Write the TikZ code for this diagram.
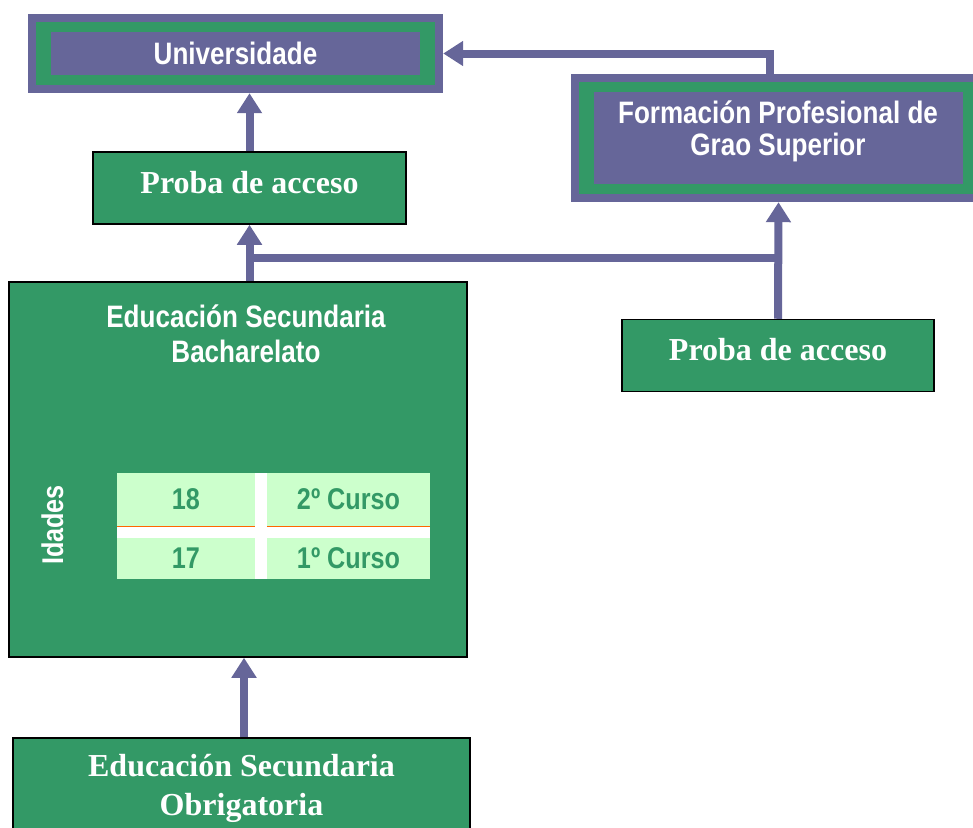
\documentclass[tikz,border=0pt]{standalone}
\usepackage{fontspec}
\usetikzlibrary{arrows.meta,calc}
\newfontfamily\narrowsf[FakeStretch=0.84]{Liberation Sans}
\newfontfamily\timesrm{Liberation Serif}
\definecolor{fpurple}{HTML}{666699}
\definecolor{fgreen}{HTML}{339966}
\definecolor{flight}{HTML}{CCFFCC}
\definecolor{forange}{HTML}{FF6600}
\tikzset{
  framed/.style={fill=fpurple, inner sep=0pt, path picture={
      \fill[fgreen] ([shift={(8pt,-8pt)}]path picture bounding box.north west)
        rectangle ([shift={(-8pt,8pt)}]path picture bounding box.south east);
      \fill[fpurple] ([shift={(23pt,-18pt)}]path picture bounding box.north west)
        rectangle ([shift={(-23pt,18pt)}]path picture bounding box.south east);}},
  gbox/.style={draw=black, line width=1.5pt, fill=fgreen, inner sep=0pt},
  wsans/.style={text=white, font=\narrowsf\bfseries\fontsize{31}{35}\selectfont, align=center, inner sep=0pt},
  wserif/.style={text=white, font=\timesrm\bfseries\fontsize{32}{39}\selectfont, align=center},
  cell/.style={fill=flight, inner sep=0pt, text=fgreen, font=\narrowsf\bfseries\fontsize{30}{34}\selectfont},
  shaft/.style={fpurple, line width=8pt},
  link/.style={shaft, -{Triangle[width=24pt,length=20pt]}}
}
\begin{document}
\begin{tikzpicture}[x=1pt,y=-1pt]
\useasboundingbox (0,0) rectangle (973,827);
\clip (0,0) rectangle (973,827);

\node[framed, wsans, minimum width=415pt, minimum height=79pt] (uni) at (235.5,53.5) {Universidade};
\node[framed, minimum width=415pt, minimum height=128pt] (fp) at (778.5,138) {};
\node[wsans, font=\narrowsf\bfseries\fontsize{31}{32}\selectfont, anchor=base] (fpt) at (778,155) {Formación Profesional de\\Grao Superior};
\node[gbox, wserif, text height=22pt, text depth=12pt, minimum width=313pt, minimum height=72pt] (pa1) at (249.5,188) {Proba de acceso};
\node[gbox, wserif, text height=22pt, text depth=12pt, minimum width=312pt, minimum height=72pt] (pa2) at (778,355.5) {Proba de acceso};
\node[gbox, minimum width=458pt, minimum height=375pt] (esb) at (238,469.5) {};
\node[gbox, wserif, minimum width=457pt, minimum height=101pt] (eso) at (241.5,788.5) {Educación Secundaria\\Obrigatoria};

\node[wsans, anchor=base] (esbt) at (246,362) {Educación Secundaria\\Bacharelato};
\node[wsans, font=\narrowsf\bfseries\fontsize{30}{34}\selectfont, rotate=90, anchor=base] (idades) at (63,525) {Idades};

% idades / cursos
\fill[white] (117,473) rectangle (430,579);
\node[cell, minimum width=138pt, minimum height=53pt] (c18) at (186,499.5) {18};
\node[cell, minimum width=163pt, minimum height=53pt] (c2) at (348.5,499.5) {2º Curso};
\node[cell, minimum width=138pt, minimum height=41pt] (c17) at (186,558.5) {17};
\node[cell, minimum width=163pt, minimum height=41pt] (c1) at (348.5,558.5) {1º Curso};
\draw[forange, line width=1pt] (c18.south west) -- (c18.south east);
\draw[forange, line width=1pt] (c2.south west) -- (c2.south east);

\coordinate (e1) at ([xshift=2.5pt]eso.north);
\coordinate (f1) at ([xshift=-8.5pt]fp.north);
\coordinate (fork) at (250,258);
\draw[link] (e1) -- (e1 |- esb.south);
\draw[link] (esb.north -| pa1.south) -- (pa1.south);
\draw[link] (pa1.north) -- (pa1.north |- uni.south);
\draw[shaft] (fork) -- (fork -| pa2.north);
\draw[link] (pa2.north) -- (fp.south);
\draw[link] (f1) |- (uni.east);
\end{tikzpicture}
\end{document}
